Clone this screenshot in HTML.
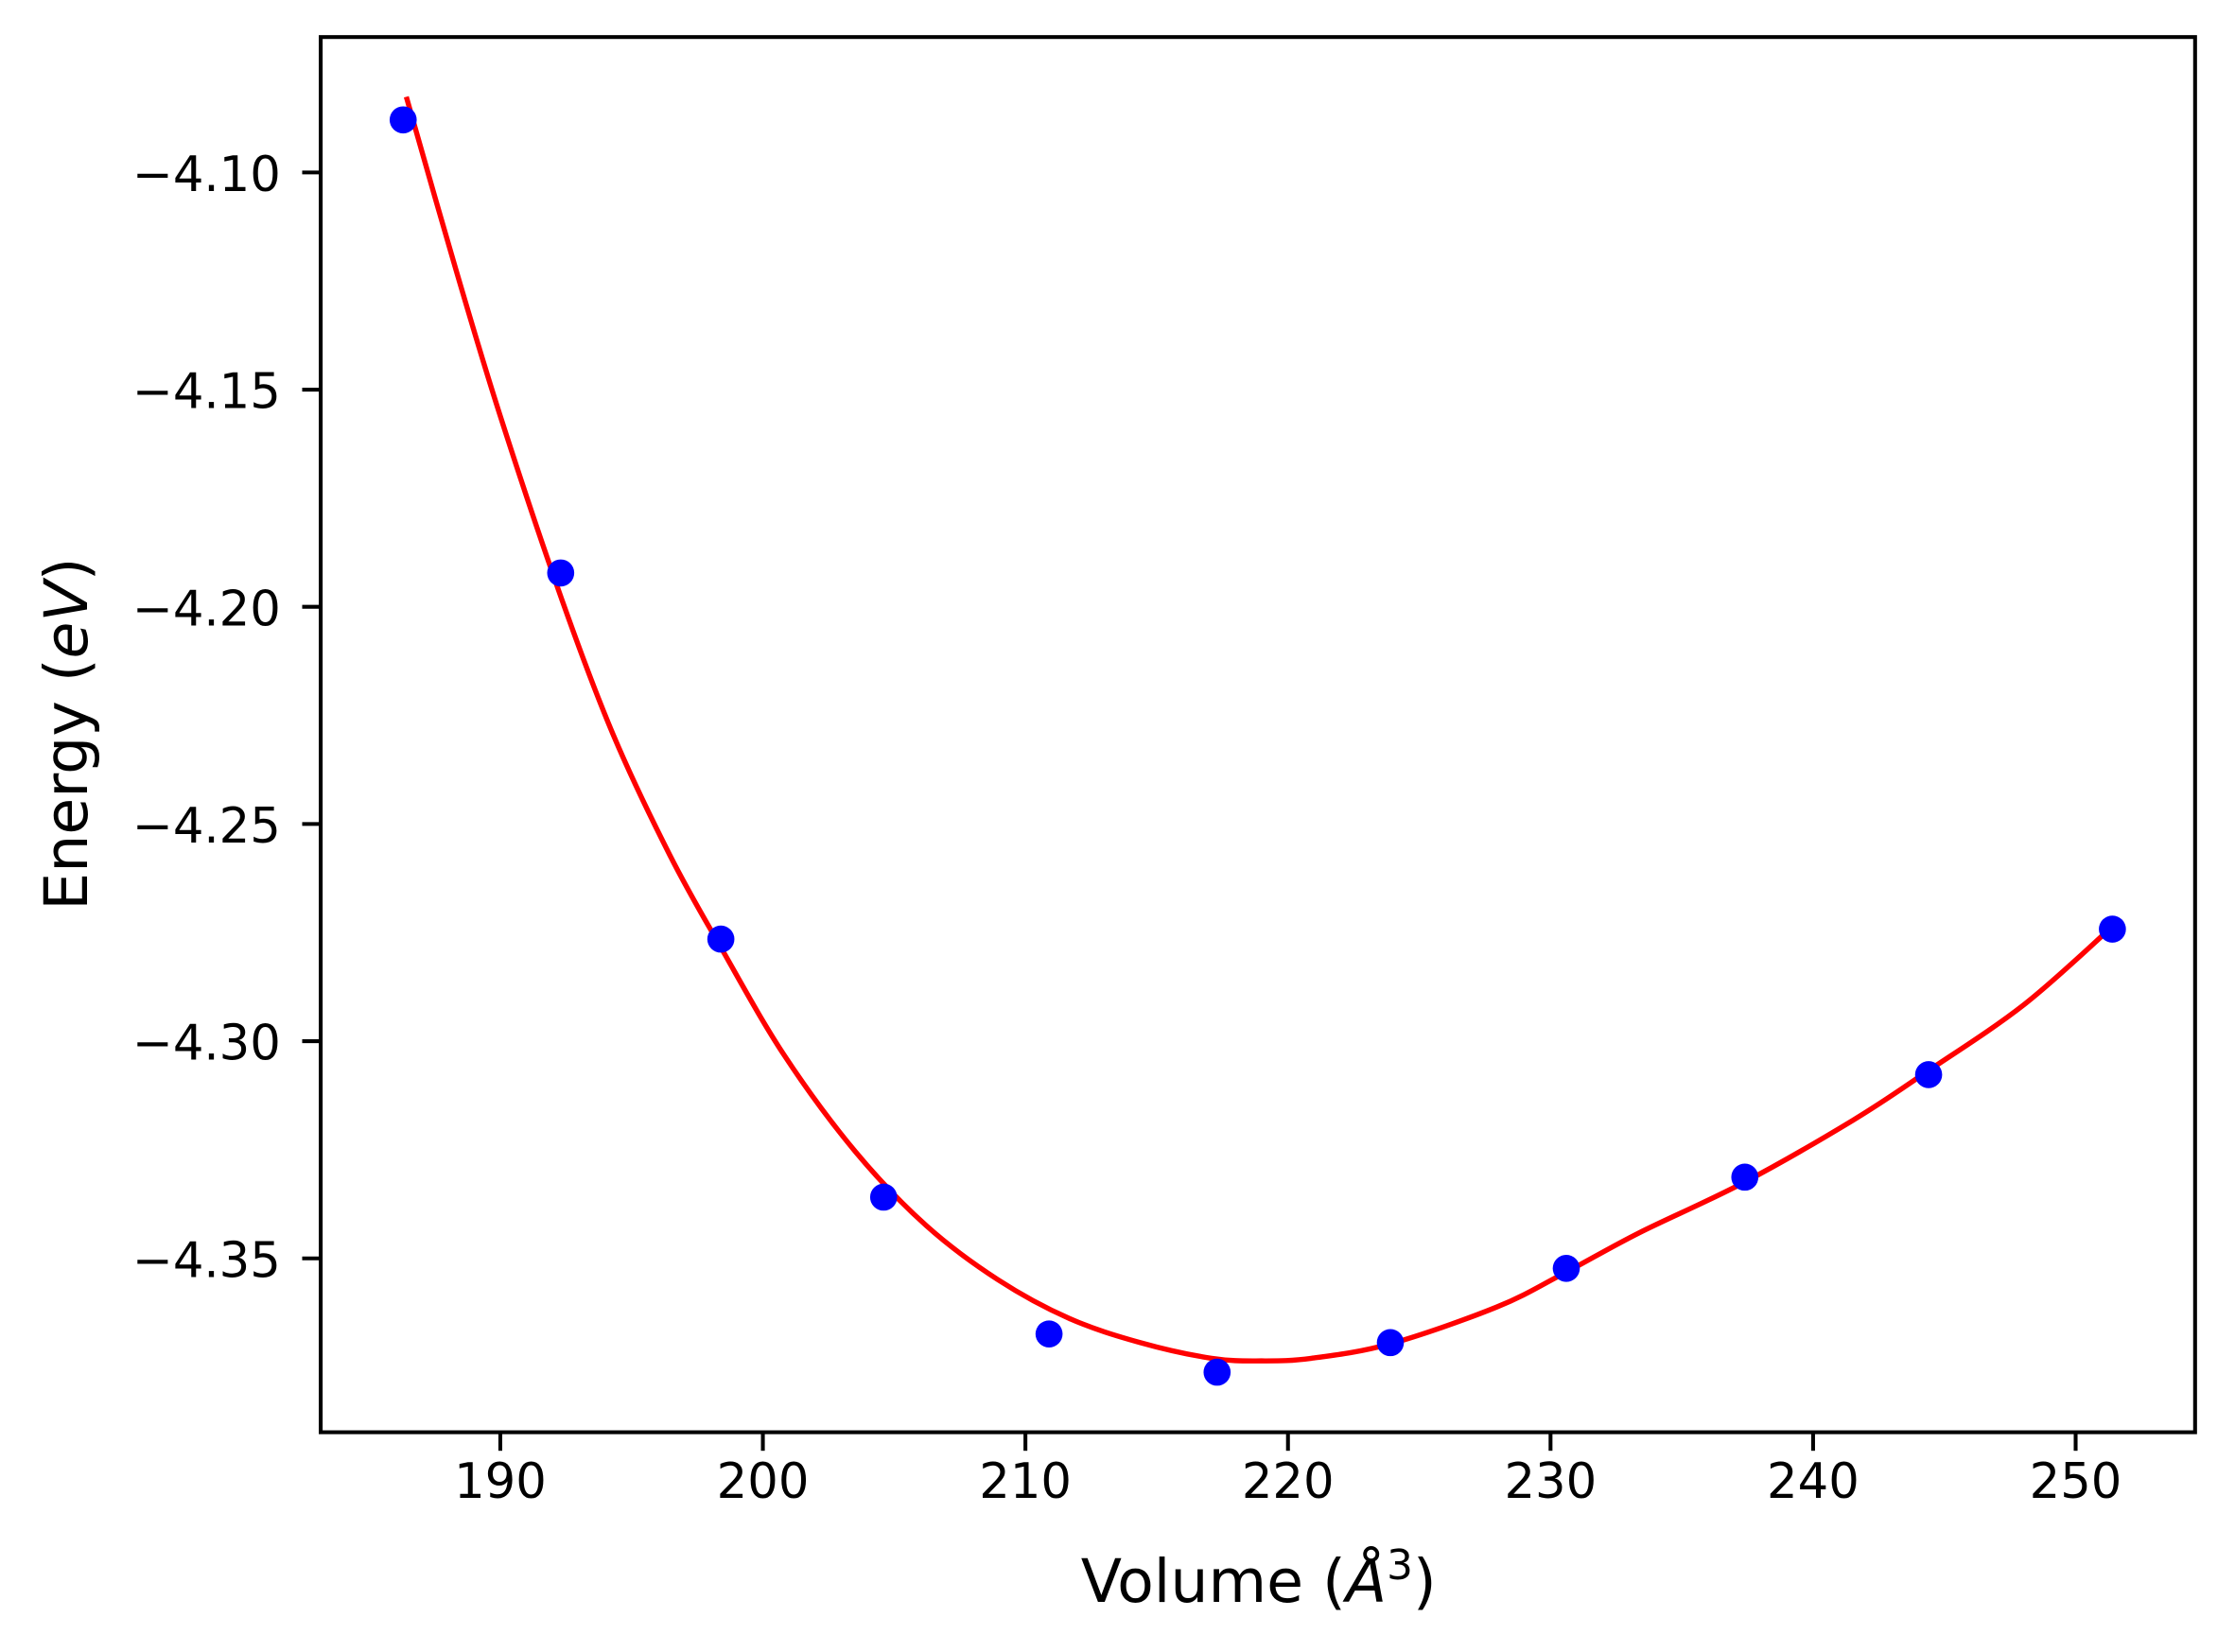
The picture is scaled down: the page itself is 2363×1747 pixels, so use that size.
<!DOCTYPE html>
<html><head><meta charset="utf-8"><style>
html,body{margin:0;padding:0;background:#fff;}
svg{display:block;font-family:"DejaVu Sans","Liberation Sans",sans-serif;}
</style></head><body>
<svg id="chart" width="2363" height="1747" viewBox="0 0 1568 1159.2" preserveAspectRatio="none" xmlns="http://www.w3.org/2000/svg">
<rect x="0" y="0" width="1568" height="1160" fill="#fff"/>
<g id="plot"></g>
<text x="883" y="1124" font-size="42" text-anchor="middle">Volume (<tspan font-style="italic">Å</tspan><tspan font-size="29" dy="-16">3</tspan><tspan dy="16">)</tspan></text>
<text x="0" y="0" font-size="42" text-anchor="middle" transform="translate(61,515) rotate(-90)">Energy (<tspan font-style="italic">eV</tspan>)</text>
</svg>
<script>
const xTicks=[190,200,210,220,230,240,250];
const yTicks=[-4.10,-4.15,-4.20,-4.25,-4.30,-4.35];
const yTickLabels=["−4.10","−4.15","−4.20","−4.25","−4.30","−4.35"];
const dataV=[186.3,192.3,198.4,204.6,210.9,217.3,223.9,230.6,237.4,244.4,251.4];
const dataE=[-4.0879,-4.1922,-4.2765,-4.3359,-4.3674,-4.3762,-4.3694,-4.3523,-4.3313,-4.3077,-4.2742];
const fitV=[186.42,188.32,190,192.33,194.29,196.46,198.41,200.80,203.52,206.23,208.95,211.66,214.38,217.09,218.99,220.89,223.88,227.95,230.55,233.38,237.34,241.52,244.34,248.03,251.40];
const fitE=[-4.0826,-4.1226,-4.1561,-4.1981,-4.2293,-4.2572,-4.2785,-4.3031,-4.3254,-4.3425,-4.3549,-4.3638,-4.3694,-4.3730,-4.3736,-4.3730,-4.3697,-4.3612,-4.3533,-4.3441,-4.3326,-4.3182,-4.3070,-4.2916,-4.2736];

const L=225,R=1540,T=26,B=1005;
const sx=v=>351+(v-190)*18.42;
const sy=e=>121+(-4.10-e)*3048;
const NS="http://www.w3.org/2000/svg";
const g=document.getElementById('plot');
function mk(tag,attrs){const el=document.createElementNS(NS,tag);for(const k in attrs)el.setAttribute(k,attrs[k]);g.appendChild(el);return el;}

// fit curve (Catmull-Rom smoothing)
const P=fitV.map((v,i)=>[sx(v),sy(fitE[i])]);
let d="M"+P[0][0].toFixed(2)+","+P[0][1].toFixed(2);
for(let i=0;i<P.length-1;i++){
  const p0=P[Math.max(0,i-1)],p1=P[i],p2=P[i+1],p3=P[Math.min(P.length-1,i+2)];
  const c1=[p1[0]+(p2[0]-p0[0])/6,p1[1]+(p2[1]-p0[1])/6];
  const c2=[p2[0]-(p3[0]-p1[0])/6,p2[1]-(p3[1]-p1[1])/6];
  d+="C"+c1[0].toFixed(2)+","+c1[1].toFixed(2)+" "+c2[0].toFixed(2)+","+c2[1].toFixed(2)+" "+p2[0].toFixed(2)+","+p2[1].toFixed(2);
}
const curve=mk('path',{d:d,fill:'none',stroke:'#ff0000','stroke-width':3.6,'stroke-linejoin':'round'});



dataV.forEach((v,i)=>{
  const c=mk('circle',{cx:sx(v),cy:sy(dataE[i]),r:9.5,fill:'#0000ff'});
  
  
});

const fr=mk('rect',{x:L,y:T,width:R-L,height:B-T,fill:'none',stroke:'#000','stroke-width':2.7});



xTicks.forEach(v=>{
  const x=sx(v);
  const t=mk('line',{x1:x,x2:x,y1:B,y2:B+13,stroke:'#000','stroke-width':2.7});
  
  
  const lb=mk('text',{x:x,y:B+46,'font-size':34,'text-anchor':'middle'});
  lb.textContent=String(v);
  
  
});
yTicks.forEach((e,i)=>{
  const y=sy(e);
  const t=mk('line',{x1:L-13,x2:L,y1:y,y2:y,stroke:'#000','stroke-width':2.7});
  
  
  const lb=mk('text',{x:L-28,y:y+13,'font-size':34,'text-anchor':'end'});
  lb.textContent=yTickLabels[i];
  
  
});
</script>
</body></html>
